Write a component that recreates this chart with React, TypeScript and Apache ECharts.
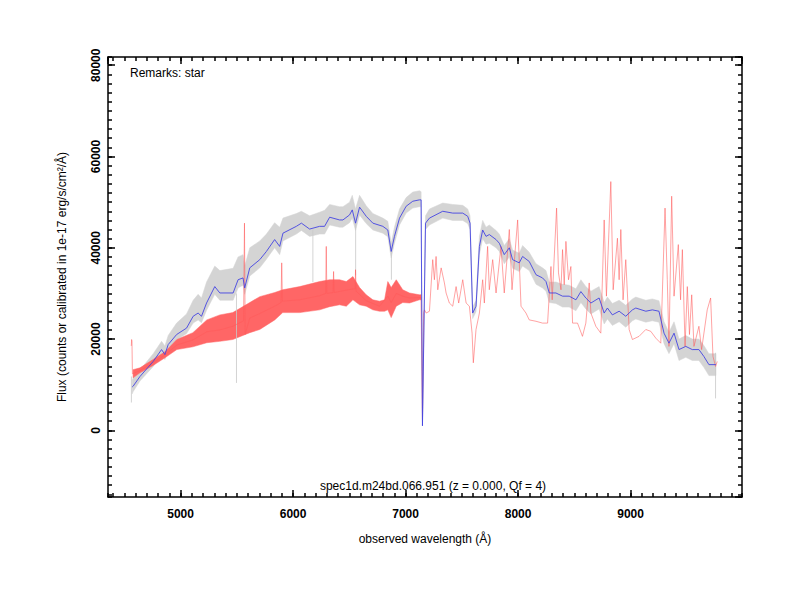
import React, { useEffect, useRef } from "react";
import * as echarts from "echarts";

const X_MIN = 4355;
const X_MAX = 9990;
const Y_MIN = -14600;
const Y_MAX = 81800;

const xTitle = "observed wavelength (Å)";
const yTitle = "Flux (counts or calibrated in 1e-17 erg/s/cm²/Å)";
const remarks = "Remarks: star";
const specLabel = "spec1d.m24bd.066.951 (z = 0.000, Qf = 4)";

// smoothed spectrum [wavelength, flux]
const blueSpectrum: [number, number][] = [
  [4570, 9500], [4579, 9700], [4639, 11800], [4757, 15100], [4831, 17700], [4861, 16600],
  [4890, 18800], [4965, 21000], [5053, 22400], [5112, 25000], [5156, 25700], [5186, 25000],
  [5231, 27900], [5304, 31500], [5349, 30100], [5467, 30100], [5511, 33000], [5555, 33400],
  [5570, 31200], [5615, 35600], [5704, 37400], [5763, 39200], [5836, 41800], [5881, 40300],
  [5910, 43200], [6029, 44700], [6074, 45400], [6147, 44100], [6236, 44700], [6280, 44700],
  [6325, 46700], [6413, 46100], [6443, 46100], [6502, 47200], [6526, 48300], [6555, 45400],
  [6591, 48900], [6650, 46900], [6709, 45400], [6798, 44700], [6842, 43900], [6872, 39200],
  [6901, 42500], [6946, 46500], [7005, 49100], [7064, 50200], [7123, 50500], [7138, 50500],
  [7150, 1000], [7177, 45400], [7212, 46500], [7330, 48000], [7419, 47600], [7508, 47600],
  [7552, 46900], [7573, 45400], [7596, 25700], [7626, 27200], [7656, 40300], [7685, 43900],
  [7715, 42500], [7744, 42900], [7804, 41800], [7833, 41000], [7877, 38500], [7922, 40000],
  [7951, 37400], [8010, 36700], [8040, 38100], [8099, 37000], [8159, 34100], [8217, 33400],
  [8248, 32600], [8277, 30100], [8336, 30100], [8395, 29400], [8454, 29400], [8514, 28600],
  [8558, 30400], [8602, 29000], [8647, 27900], [8720, 29000], [8765, 25700], [8794, 26800],
  [8838, 25300], [8898, 26100], [8957, 25000], [9016, 26400], [9046, 26800], [9135, 26100],
  [9193, 26400], [9252, 26100], [9297, 21300], [9341, 19100], [9386, 21300], [9430, 17700],
  [9490, 18400], [9548, 17700], [9607, 17700], [9651, 16200], [9696, 14400], [9758, 14400],
];

// raw-spectrum envelope [wavelength, low, high]
const grayBand: [number, number, number][] = [
  [4570, 8000, 11000], [4579, 8500, 11500], [4639, 10800, 13200], [4757, 14000, 16800],
  [4831, 16500, 19500], [4861, 15500, 18500], [4890, 17500, 20800], [4965, 19800, 23500],
  [5053, 21200, 25500], [5112, 23500, 28500], [5156, 24200, 29800], [5186, 23600, 29000],
  [5231, 26300, 32500], [5304, 29800, 36000], [5349, 28500, 35000], [5467, 28500, 35500],
  [5511, 31200, 38000], [5555, 31800, 38500], [5570, 29800, 36000], [5615, 33800, 40000],
  [5704, 35600, 41500], [5763, 37500, 43000], [5836, 40000, 45500], [5881, 38500, 44500],
  [5910, 41500, 46500], [6029, 43000, 47500], [6074, 43800, 48000], [6147, 42500, 47000],
  [6236, 43000, 47800], [6280, 43000, 48200], [6325, 45000, 49500], [6413, 44500, 49000],
  [6443, 44500, 49000], [6502, 45500, 50000], [6526, 46500, 51500], [6555, 43800, 48500],
  [6591, 47200, 51500], [6650, 45300, 49200], [6709, 43900, 47500], [6798, 43200, 46500],
  [6842, 42400, 45800], [6872, 37800, 41000], [6901, 41000, 44500], [6946, 45000, 48500],
  [7005, 47600, 51000], [7064, 48700, 52200], [7123, 49000, 52500], [7138, 49000, 52300],
  [7150, 1000, 2000], [7177, 44000, 47000], [7212, 45000, 48500], [7330, 46500, 49800],
  [7419, 46000, 49500], [7508, 46000, 49300], [7552, 45300, 48500], [7573, 44000, 47000],
  [7596, 24500, 27000], [7626, 26000, 28500], [7656, 38500, 42500], [7685, 42000, 46000],
  [7715, 40800, 44500], [7744, 41000, 45000], [7804, 40000, 43800], [7833, 39200, 43000],
  [7877, 36500, 40500], [7922, 38000, 42000], [7951, 35500, 39500], [8010, 34800, 38800],
  [8040, 36000, 40500], [8099, 35000, 39000], [8159, 32000, 36500], [8217, 31200, 35600],
  [8248, 30500, 35000], [8277, 28000, 32500], [8336, 27800, 32500], [8395, 27000, 32000],
  [8454, 27000, 31800], [8514, 26200, 31000], [8558, 28000, 33000], [8602, 26600, 31500],
  [8647, 25500, 30500], [8720, 26600, 31500], [8765, 23300, 28000], [8794, 24400, 29200],
  [8838, 23000, 27800], [8898, 23800, 28500], [8957, 22600, 27400], [9016, 24000, 28800],
  [9046, 24400, 29200], [9135, 23700, 28500], [9193, 24000, 28800], [9252, 23700, 28400],
  [9297, 19000, 23800], [9341, 16800, 21500], [9386, 19000, 23800], [9430, 15300, 20000],
  [9490, 16000, 20800], [9548, 15300, 20000], [9607, 15300, 20000], [9651, 13800, 18600],
  [9696, 12000, 16800], [9758, 12000, 16800],
];

// isolated raw-spectrum spikes [wavelength, top, bottom]
const graySpikes: [number, number, number][] = [
  [4563, 11800, 6100], [5497, 30000, 10400], [6176, 44000, 32500],
  [6556, 48000, 34000], [6874, 40000, 33000], [9755, 17000, 7000],
];

// second spectrum, dense part [wavelength, low, high]
const redBand: [number, number, number][] = [
  [4578, 11500, 13300], [4639, 12600, 13700], [4755, 14200, 15500], [4861, 15900, 17200],
  [4967, 17700, 19900], [5109, 18300, 21400], [5233, 19200, 24200], [5349, 19500, 25300],
  [5464, 19900, 25800], [5615, 21400, 28000], [5704, 22100, 29300], [5837, 24200, 30200],
  [5908, 25800, 30800], [6059, 25800, 31500], [6236, 26400, 32600], [6325, 27100, 33000],
  [6413, 27500, 33000], [6473, 27200, 32600], [6532, 28600, 33700], [6591, 27500, 31300],
  [6650, 27200, 29700], [6709, 26400, 28600], [6768, 26100, 28300], [6813, 26100, 28600],
  [6842, 26400, 32600], [6872, 24700, 31300], [6917, 27200, 33000], [6975, 28000, 30800],
  [7035, 27900, 30100], [7123, 28600, 29700], [7137, 28600, 29700],
];

// second spectrum, line [wavelength, flux]
const redSpectrum: [number, number][] = [
  [4562, 18500], [4565, 19900], [4568, 19500], [4572, 12400], [4639, 13100], [4755, 14800],
  [4861, 16500], [4967, 18700], [5109, 19800], [5233, 21600], [5349, 22000], [5464, 22800],
  [5560, 24000], [5568, 45400], [5574, 21000], [5615, 24600], [5704, 25600], [5837, 27200],
  [5893, 28000], [5899, 36700], [5905, 28300], [6059, 28600], [6236, 29500], [6290, 30000],
  [6295, 40300], [6300, 30000], [6355, 30200], [6360, 34800], [6365, 30200], [6532, 31000],
  [6552, 31000], [6555, 35200], [6560, 30500], [6650, 28400], [6768, 27200], [6842, 29400],
  [6872, 28000], [6917, 30000], [6975, 29400], [7035, 29000], [7137, 29100], [7150, 2300],
  [7160, 25800], [7168, 26400], [7183, 25700], [7212, 26100], [7241, 37400], [7256, 33000],
  [7271, 38100], [7286, 30800], [7316, 35600], [7345, 32300], [7360, 30100], [7389, 27900],
  [7419, 27200], [7449, 31500], [7472, 27900], [7508, 33000], [7538, 27900], [7567, 27200],
  [7591, 21300], [7602, 14800], [7626, 22100], [7656, 25700], [7685, 33000], [7700, 27900],
  [7729, 40300], [7744, 30800], [7774, 37400], [7804, 30100], [7848, 40300], [7877, 30100],
  [7922, 44000], [7946, 30800], [7996, 46100], [8026, 27200], [8070, 25700], [8099, 24200],
  [8159, 23900], [8217, 23500], [8262, 23500], [8292, 35900], [8303, 28600], [8342, 48700],
  [8359, 34500], [8381, 30800], [8395, 39600], [8410, 31900], [8425, 41400], [8448, 33000],
  [8469, 35900], [8484, 23500], [8528, 23500], [8572, 20600], [8602, 23500], [8632, 32300],
  [8647, 25700], [8691, 22800], [8735, 21300], [8765, 46100], [8785, 29400], [8824, 54500],
  [8845, 30800], [8883, 42100], [8898, 33000], [8913, 44000], [8933, 28600], [8957, 37400],
  [8987, 22100], [9016, 19900], [9075, 20600], [9135, 22100], [9179, 21700], [9224, 20200],
  [9268, 19100], [9306, 48700], [9326, 33000], [9341, 18400], [9365, 51300], [9386, 29400],
  [9424, 40700], [9444, 28600], [9460, 39600], [9484, 18400], [9504, 31500], [9523, 21000],
  [9543, 29700], [9563, 18400], [9607, 22800], [9631, 17700], [9681, 26400], [9711, 29000],
  [9732, 16200], [9755, 14000], [9770, 15100],
];

const FONT = "'Liberation Sans', Arial, Helvetica, sans-serif";
const plain = (v: number) => String(v);

function axisX(position: "top" | "bottom", minor: boolean, labels: boolean): any {
  return {
    type: "value",
    position,
    min: X_MIN,
    max: X_MAX,
    splitNumber: minor ? 56 : 5,
    axisLine: { show: !minor, onZero: false, lineStyle: { color: "#000", width: 1.5 } },
    axisTick: { show: true, inside: true, length: minor ? 4 : 7, lineStyle: { color: "#000", width: 1.5 } },
    axisLabel: labels
      ? { show: true, formatter: plain, fontWeight: "bold", fontSize: 12, color: "#000", fontFamily: FONT, margin: 11, showMinLabel: false, showMaxLabel: false }
      : { show: false },
    splitLine: { show: false },
    ...(labels
      ? { name: xTitle, nameLocation: "middle", nameGap: 36, nameTextStyle: { fontSize: 12, color: "#000", fontFamily: FONT } }
      : {}),
  };
}

function axisY(position: "left" | "right", minor: boolean, labels: boolean): any {
  return {
    type: "value",
    position,
    min: Y_MIN,
    max: Y_MAX,
    splitNumber: minor ? 48 : 5,
    axisLine: { show: !minor, onZero: false, lineStyle: { color: "#000", width: 1.5 } },
    axisTick: { show: true, inside: true, length: minor ? 4 : 7, lineStyle: { color: "#000", width: 1.5 } },
    axisLabel: labels
      ? { show: true, formatter: plain, rotate: 90, fontWeight: "bold", fontSize: 12, color: "#000", fontFamily: FONT, margin: 6, showMinLabel: false, showMaxLabel: false }
      : { show: false },
    splitLine: { show: false },
    ...(labels
      ? { name: yTitle, nameLocation: "middle", nameGap: 40, nameRotate: 90, nameTextStyle: { fontSize: 12, color: "#000", fontFamily: FONT } }
      : {}),
  };
}

function bandSeries(name: string, band: [number, number, number][], color: string): any {
  return {
    type: "custom",
    name,
    silent: true,
    clip: true,
    xAxisIndex: 0,
    yAxisIndex: 0,
    data: [[band[0][0], band[0][1]]],
    encode: { x: 0, y: 1 },
    renderItem: (_params: any, api: any) => {
      const upper = band.map((d) => api.coord([d[0], d[2]]));
      const lower = band.map((d) => api.coord([d[0], d[1]])).reverse();
      return {
        type: "polygon",
        shape: { points: upper.concat(lower) },
        style: { fill: color, stroke: color, lineWidth: 0.5 },
      };
    },
  };
}

export default function App() {
  const ref = useRef<HTMLDivElement>(null);

  useEffect(() => {
    document.body.style.margin = "0";
    const chart = echarts.init(ref.current!, null, { renderer: "svg" });

    const base = { type: "line", symbol: "none", showSymbol: false, silent: true, xAxisIndex: 0, yAxisIndex: 0 };
    const spikeData: any[] = [];
    graySpikes.forEach((s) => {
      spikeData.push([s[0], s[1]], [s[0], s[2]], [s[0], "-"]);
    });

    const option: any = {
      animation: false,
      backgroundColor: "#fff",
      textStyle: { fontFamily: FONT },
      grid: { left: 108, right: 58, top: 57, bottom: 103, containLabel: false },
      xAxis: [axisX("bottom", false, true), axisX("bottom", true, false), axisX("top", false, false), axisX("top", true, false)],
      yAxis: [axisY("left", false, true), axisY("left", true, false), axisY("right", false, false), axisY("right", true, false)],
      graphic: [
        { type: "text", x: 130, y: 73, style: { text: remarks, font: `12px ${FONT}`, fill: "#000", textVerticalAlign: "middle" } },
        { type: "text", x: 433, y: 486, style: { text: specLabel, font: `12px ${FONT}`, fill: "#000", textAlign: "center", textVerticalAlign: "middle" } },
      ],
      series: [
        bandSeries("grayBand", grayBand, "#d4d4d4"),
        { ...base, name: "graySpikes", data: spikeData, connectNulls: false, lineStyle: { width: 0.8, color: "#c8c8c8" } },
        bandSeries("redBand", redBand, "#ff6666"),
        { ...base, name: "red", data: redSpectrum, lineStyle: { width: 0.8, color: "#ff5a5a", opacity: 0.7 } },
        { ...base, name: "blue", data: blueSpectrum, lineStyle: { width: 1, color: "#4545e2", opacity: 0.9 } },
      ],
    };
    chart.setOption(option);
    return () => chart.dispose();
  }, []);

  return <div ref={ref} style={{ width: 800, height: 600 }} />;
}
